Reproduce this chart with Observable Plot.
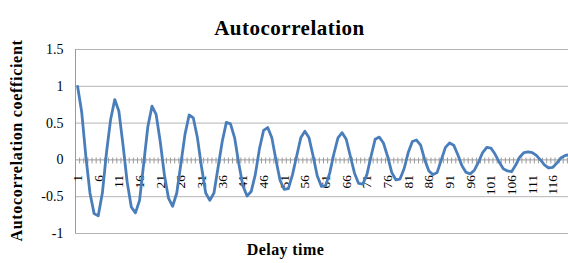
<!DOCTYPE html>
<html>
<head>
<meta charset="utf-8">
<script src="https://cdn.jsdelivr.net/npm/d3@7"></script>
<script src="https://cdn.jsdelivr.net/npm/@observablehq/plot@0.6"></script>
<style>
  html, body { margin: 0; padding: 0; background: #fff; }
  svg { display: block; }
</style>
</head>
<body>
<div id="chart"></div>
<script>
// Autocorrelation coefficient for delay times 1..120
const values = [
  1.00, 0.65, 0.05, -0.45, -0.73, -0.76, -0.45, 0.10, 0.55, 0.82,
  0.66, 0.20, -0.30, -0.64, -0.72, -0.55, -0.05, 0.45, 0.73, 0.62,
  0.25, -0.20, -0.52, -0.63, -0.45, -0.05, 0.35, 0.61, 0.57, 0.30,
  -0.10, -0.45, -0.55, -0.45, -0.10, 0.25, 0.51, 0.49, 0.30, -0.05,
  -0.35, -0.49, -0.43, -0.20, 0.15, 0.40, 0.44, 0.30, 0.00, -0.28,
  -0.40, -0.39, -0.20, 0.05, 0.30, 0.39, 0.30, 0.05, -0.22, -0.36,
  -0.35, -0.18, 0.08, 0.30, 0.37, 0.28, 0.05, -0.18, -0.32, -0.33,
  -0.20, 0.05, 0.28, 0.31, 0.23, 0.05, -0.17, -0.27, -0.26, -0.12,
  0.10, 0.25, 0.27, 0.20, 0.00, -0.15, -0.20, -0.17, 0.00, 0.17,
  0.23, 0.20, 0.07, -0.08, -0.17, -0.19, -0.14, -0.03, 0.10, 0.17,
  0.16, 0.08, -0.03, -0.12, -0.15, -0.16, -0.07, 0.04, 0.10, 0.11,
  0.10, 0.06, 0.00, -0.07, -0.11, -0.10, -0.04, 0.03, 0.06, 0.07
];
const lags = values.map((_, i) => i + 1);
const yTicks = [1.5, 1, 0.5, 0, -0.5, -1];
const gridLines = [1.5, 1, 0.5, -0.5, -1];
const xTickLabels = lags.filter(d => d % 5 === 1);
const tickBounds = [0, ...lags].map(d => d + 0.5);

const titleText = "Autocorrelation";
const xTitle = "Delay time";
const yTitle = "Autocorrelation coefficient";

const data = lags.map((lag, i) => ({lag, value: values[i]}));
const serif = "'Liberation Serif', 'DejaVu Serif', serif";

const chart = Plot.plot({
  width: 568,
  height: 263,
  marginLeft: 75,
  marginRight: -3,
  marginTop: 49,
  marginBottom: 30,
  style: {fontFamily: serif, background: "#fff", overflow: "visible"},
  x: {domain: [0.5, lags.length + 0.5], axis: null},
  y: {domain: [-1, 1.5], axis: null},
  marks: [
    Plot.ruleY(gridLines, {stroke: "#b4b4b4", strokeWidth: 1}),
    Plot.ruleX([0.5], {y1: -1, y2: 1.5, stroke: "#9a9a9a", strokeWidth: 1}),
    Plot.ruleY([0], {stroke: "#9a9a9a", strokeWidth: 1}),
    Plot.ruleX(tickBounds, {y1: 0.025, y2: -0.055, stroke: "#9a9a9a", strokeWidth: 1}),
    Plot.text(yTicks, {x: 0.5, y: d => d, text: d => String(d), textAnchor: "end", dx: -12, fontSize: 14, fill: "#000"}),
    Plot.text(xTickLabels, {x: d => d, y: 0, text: d => String(d), rotate: -90, textAnchor: "end", dy: 15, fontSize: 13.5, fill: "#000"}),
    Plot.line(data, {x: "lag", y: "value", stroke: "#4a7ebb", strokeWidth: 2.8, strokeLinejoin: "round", strokeLinecap: "round"}),
    Plot.text([titleText], {frameAnchor: "top", textAnchor: "middle", text: d => d, dx: -34, dy: -29, fontSize: 21, fontWeight: "bold", fill: "#000"}),
    Plot.text([xTitle], {frameAnchor: "bottom", textAnchor: "middle", text: d => d, dx: -38, dy: 21, fontSize: 16, fontWeight: "bold", fill: "#000"}),
    Plot.text([yTitle], {frameAnchor: "left", textAnchor: "middle", text: d => d, rotate: -90, dx: -59, dy: -1, fontSize: 16, fontWeight: "bold", fill: "#000"})
  ]
});
// slightly widen the title letters like the reference's typeface
const spacing = new Map([[titleText, "0.5px"], [xTitle, "0.4px"], [yTitle, "0.7px"]]);
d3.select(chart).selectAll("text").each(function () {
  const s = spacing.get(this.textContent);
  if (s) this.style.letterSpacing = s;
});
document.getElementById("chart").appendChild(chart);
</script>
</body>
</html>
